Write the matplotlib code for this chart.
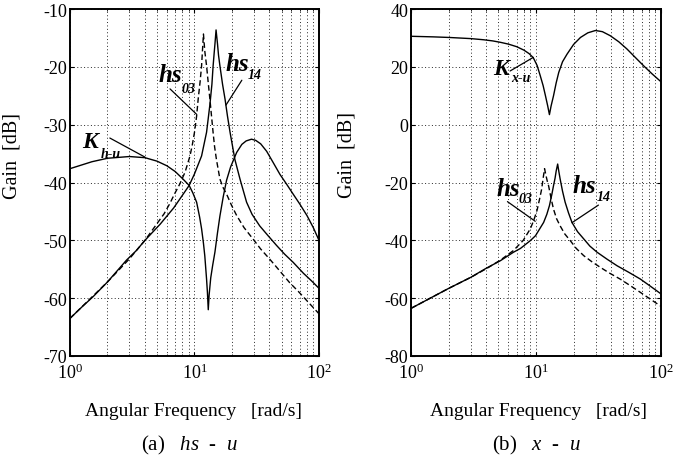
import matplotlib
matplotlib.use("Agg")
import matplotlib.pyplot as plt
import numpy as np

plt.rcParams['font.family'] = 'Liberation Serif'
plt.rcParams['mathtext.fontset'] = 'custom'
plt.rcParams['mathtext.rm'] = 'Liberation Serif'
plt.rcParams['mathtext.it'] = 'Liberation Serif:italic'
plt.rcParams['mathtext.bf'] = 'Liberation Serif:bold'
plt.rcParams['axes.unicode_minus'] = False

# ---- (a) hs - u : frequency [rad/s] vs gain [dB]
a_k_w  = [1, 1.5, 2, 3, 4, 5, 6, 7, 8, 9.06, 9.7, 10.4, 11, 11.4, 11.8, 12.1, 12.5, 12.7, 12.9,
          13.1, 13.5, 14, 14.6, 15.3, 16, 17, 18.1, 19.5, 21.8, 24, 26, 28.7, 31, 34, 38, 43,
          48.6, 55, 62, 70, 80, 90, 100]
a_k_db = [-37.6, -36.4, -35.8, -35.5, -35.7, -36.3, -37.1, -38.1, -39.3, -40.5, -41.8, -43.4, -46, -48, -50.5, -52.7, -56.7, -59, -62,
          -59.5, -56.5, -54.3, -52, -48.7, -45.8, -42.5, -39.6, -37.3, -34.8, -33.4, -32.8, -32.5, -32.7, -33.3, -34.6, -36.6,
          -38.6, -40.3, -42, -43.7, -45.7, -47.8, -50]

a_h14_w  = [1, 1.25, 1.54, 2, 2.85, 3.4, 4, 5.3, 6.8, 8, 9.06, 10, 11.4, 12.5, 13.3, 13.8, 14.1, 14.4, 14.6, 14.9,
            15.3, 15.6, 16, 16.8, 17.6, 18.4, 19.3, 21.1, 23.2, 26.2, 29, 33.4, 39, 45.7, 53, 62, 75, 87, 100]
a_h14_db = [-63.5, -61.5, -59.7, -57.2, -53.4, -51.8, -50, -47.2, -44.4, -42.2, -40.5, -38.5, -35.4, -31.3, -26.5, -23, -19.9, -17.5, -16, -13.6,
            -16, -18, -19.8, -23, -25.6, -28.5, -31.3, -36, -39.4, -43.4, -45.5, -47.5, -49.2, -50.9, -52.4, -53.8, -55.7, -57, -58.3]

a_h03_w  = [1, 2, 3, 4, 5, 5.7, 6.35, 6.9, 7.6, 8.4, 9.2, 9.6, 10, 10.4, 10.7, 11.1, 11.4, 11.6, 11.8,
            12.1, 12.5, 12.9, 13.3, 13.7, 14.1, 14.5, 15, 16, 17, 18.1, 19.8, 21.8, 25, 29.6, 34, 40,
            48, 58, 68, 79.6, 100]
a_h03_db = [-63.5, -57.2, -53.2, -50, -47.1, -45.4, -43.6, -42, -40.3, -38.2, -35.4, -33.5, -31.3, -28.5, -25.6, -22.5, -19.8, -17, -14.3,
            -17.3, -19.8, -22.8, -25.6, -28.5, -31.3, -33.8, -36, -39.4, -40.9, -42, -43.9, -45.7, -47.8, -49.8, -51.5, -53.2,
            -55.2, -57.3, -58.8, -60.4, -62.7]

# ---- (b) x - u
b_k_w  = [1, 1.5, 2, 3, 3.8, 4.5, 5.2, 6, 7, 8, 8.8, 9.5, 10.2, 10.8, 11.4, 11.9, 12.4, 12.8,
          13.2, 13.8, 14.5, 15.2, 16.3, 17.7, 20, 22.7, 26, 29.9, 34, 39.3, 46, 53.5, 62, 72.7, 85, 100]
b_k_db = [30.6, 30.4, 30.2, 29.8, 29.4, 29, 28.5, 27.9, 27, 25.8, 24.6, 23.2, 20.5, 17, 13.5, 10, 6.5, 3.5,
          6.5, 10, 14.5, 18.1, 21.8, 24.4, 27.8, 30.2, 31.8, 32.6, 32.2, 30.8, 28.7, 26.2, 23.4, 20.4, 17.6, 14.9]

b_h14_w  = [1, 2, 3, 3.9, 5.2, 6.6, 7.5, 9, 9.9, 11.5, 12.2, 12.8, 13.4, 13.8, 14.2, 14.5, 14.9,
            15.2, 15.6, 16.3, 17.1, 18.2, 19.4, 21.5, 24.1, 27, 30.8, 37, 44.6, 55, 68.5, 82, 100]
b_h14_db = [-63.5, -56.6, -52.8, -49.9, -47, -44.1, -42.8, -40.1, -38.4, -33.8, -31, -28, -24, -21.1, -18.5, -16, -13.6,
            -16, -18.8, -23, -26.8, -30.5, -33.8, -37, -39.5, -42, -44.1, -46.5, -48.8, -51, -53.4, -55.8, -58.5]

b_h03_w  = [1, 2, 3, 4, 5.2, 6.6, 7.9, 9, 9.6, 10.2, 10.7, 11.1, 11.4, 11.7, 12, 12.3, 12.6, 13.2, 13.8,
            14.6, 15.6, 17, 18.8, 21, 24.1, 28, 32.6, 39, 47.2, 57, 68.5, 82, 100]
b_h03_db = [-63.5, -56.6, -52.8, -49.8, -46.8, -43.5, -40, -36, -33, -29.5, -25.5, -22.2, -18.5, -15.2, -17.5, -19.5, -21.1, -25.5, -29.2,
            -32.5, -35, -37.8, -40.1, -42.8, -45.3, -47.4, -49.3, -51.4, -53.4, -55.7, -58, -60.3, -62.8]

fig = plt.figure(figsize=(6.73, 4.60), dpi=100)
ax1 = fig.add_axes([0.104, 0.224, 0.370, 0.754])
ax2 = fig.add_axes([0.611, 0.224, 0.371, 0.754])

lw = 1.0
dash = (4, 2.2)


def setup(ax, ylim, yticks):
    ax.set_xscale('log')
    ax.set_xlim(1, 100)
    ax.set_ylim(*ylim)
    ax.set_yticks(yticks)
    ax.grid(True, which='both', axis='x', color='0.15', linestyle=(0, (1, 2.5)), linewidth=0.7)
    ax.grid(True, which='major', axis='y', color='0.15', linestyle=(0, (1, 2.5)), linewidth=0.7)
    ax.tick_params(which='both', direction='in', top=True, right=True, labelsize=13)
    ax.tick_params(axis='y', pad=2)
    ax.tick_params(axis='x', pad=5)
    ax.tick_params(which='major', length=3)
    ax.tick_params(which='minor', length=1.5)
    for s in ax.spines.values():
        s.set_linewidth(1.4)
    ax.set_axisbelow(True)


def tag(ax, main, sub, xy_main, xy_sub, start, end, size=18):
    ax.text(*xy_main, main, fontsize=size, fontweight='bold', style='italic', ha='left', va='baseline')
    ax.text(*xy_sub, sub, fontsize=10, fontweight='bold', style='italic', ha='left', va='baseline')
    ax.annotate('', xy=end, xytext=start,
                arrowprops=dict(arrowstyle='-', color='k', lw=0.9, shrinkA=0, shrinkB=0))


# (a)
setup(ax1, (-70, -10), np.arange(-70, -9, 10))
ax1.plot(a_k_w, a_k_db, color='k', lw=lw)
ax1.plot(a_h14_w, a_h14_db, color='k', lw=lw)
ax1.plot(a_h03_w, a_h03_db, color='k', lw=lw, dashes=dash)
tag(ax1, 'K', 'h-u', (1.25, -33.9), (1.76, -35.5), (2.09, -32.3), (4.0, -35.6), size=17)
tag(ax1, 'hs', '03', (5.18, -22.4), (7.85, -24.3), (6.36, -23.8), (10.4, -28.2))
tag(ax1, 'hs', '14', (17.6, -20.5), (26.8, -22.0), (24.0, -22.3), (17.9, -26.6))
ax1.set_ylabel('Gain  [dB]', fontsize=14.5)
ax1.yaxis.set_label_coords(-0.193, 0.579)
ax1.text(0.496, -0.158, 'Angular Frequency   [rad/s]', transform=ax1.transAxes,
         fontsize=14, ha='center', va='center')
ax1.text(0.478, -0.254, '(a)   $hs$  -  $u$', transform=ax1.transAxes,
         fontsize=15, ha='center', va='center')

# (b)
setup(ax2, (-80, 40), np.arange(-80, 41, 20))
ax2.plot(b_k_w, b_k_db, color='k', lw=lw)
ax2.plot(b_h14_w, b_h14_db, color='k', lw=lw)
ax2.plot(b_h03_w, b_h03_db, color='k', lw=lw, dashes=dash)
tag(ax2, 'K', 'x-u', (4.54, 17.5), (6.3, 15.1), (6.2, 18.6), (9.5, 23.3), size=17)
tag(ax2, 'hs', '03', (4.85, -24.2), (7.3, -26.7), (5.9, -26.6), (9.85, -33.4))
tag(ax2, 'hs', '14', (19.5, -23.3), (30.5, -25.9), (31.6, -27.8), (19.4, -33.9))
ax2.set_ylabel('Gain  [dB]', fontsize=14.5)
ax2.yaxis.set_label_coords(-0.22, 0.582)
ax2.text(0.51, -0.158, 'Angular Frequency   [rad/s]', transform=ax2.transAxes,
         fontsize=14, ha='center', va='center')
ax2.text(0.50, -0.254, '(b)   $x$  -  $u$', transform=ax2.transAxes,
         fontsize=15, ha='center', va='center')

fig.savefig('out.png', dpi=100)
